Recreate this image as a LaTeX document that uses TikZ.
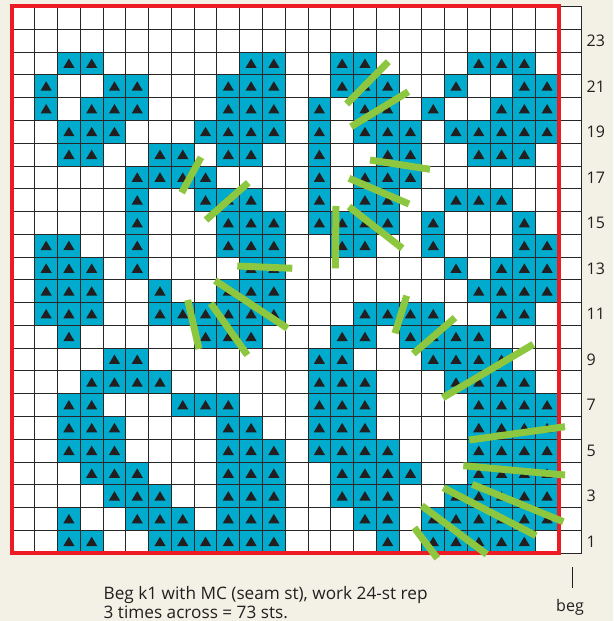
\documentclass[tikz,border=0pt]{standalone}
\usepackage{fontspec}
\setmainfont{Open Sans}
\definecolor{bg}{HTML}{F3F1E6}
\definecolor{chartblue}{HTML}{00ABCD}
\definecolor{bargreen}{HTML}{8DC63F}
\definecolor{borderred}{HTML}{ED1C24}
\definecolor{ink}{HTML}{231F20}
\begin{document}
\begin{tikzpicture}[x=1pt,y=-1pt,
  gridline/.style={draw=black!85,line width=0.9pt},
  cellfill/.style={fill=chartblue},
  trimark/.style={fill=ink},
  greenbar/.style={draw=bargreen,line width=7pt},
  redframe/.style={draw=borderred,line width=4pt},
  rowlabel/.style={anchor=west,inner sep=0pt,font=\fontsize{16}{18}\selectfont,text=ink},
  notetext/.style={anchor=base west,inner sep=0pt,font=\fontsize{17.2}{19}\selectfont,text=ink}]
\useasboundingbox (0,0) rectangle (613,621);
\fill[bg] (0,0) rectangle (613,621);
\fill[white] (12,6.6) rectangle (581.8,553);
% filled cells
\foreach \r/\cl in {
3/{3,4,11,12,15,16,21,22,23},
4/{2,5,6,10,11,12,15,16,17,20,23,24},
5/{2,4,5,6,10,11,12,14,16,17,19,22,23,24},
6/{3,4,5,9,10,11,12,14,16,17,18,20,21,22,23,24},
7/{3,4,7,8,10,11,14,17,18,21,22,23},
8/{6,7,8,9,14,16,17,18},
9/{6,9,10,11,14,16,17,20,21,22},
10/{6,10,11,12,14,15,16,17,19,23},
11/{2,3,6,10,11,12,15,16,19,23,24},
12/{2,3,4,6,11,12,20,22,23,24},
13/{2,3,4,7,10,11,12,21,22,23,24},
14/{2,3,4,7,8,9,10,11,12,16,17,18,19,22,23},
15/{3,9,10,11,15,16,18,19,20,21},
16/{5,6,14,15,19,20,21,22},
17/{4,5,6,7,14,15,16,20,21,22,23},
18/{3,4,8,9,10,14,15,16,21,22,23,24},
19/{3,4,5,10,11,14,15,16,21,22,23,24},
20/{3,4,5,10,11,12,14,15,16,17,21,22,23,24},
21/{4,5,6,10,11,12,15,16,17,18,21,22,23,24},
22/{5,6,7,10,11,12,15,16,17,20,21,22,23,24},
23/{3,6,7,8,10,11,12,16,17,19,20,21,22,23,24},
24/{3,4,7,8,9,10,11,12,17,19,20,21,22,23}}{
  \foreach \c in \cl {
    \fill[cellfill] ({12+(\c-1)*22.77},{6.6+(\r-1)*22.77}) rectangle ++(22.77,22.77);
    \fill[trimark] ({12+(\c-0.5)*22.77},{6.6+(\r-0.5)*22.77}) ++(-5.6,4.4) -- ++(11.2,0) -- ++(-5.6,-9.4) -- cycle;
  }
}
% grid lines
\foreach \k in {0,...,24}{
  \draw[gridline] ({12+\k*22.77},6.6) -- ({12+\k*22.77},553);
  \draw[gridline] (12,{6.6+\k*22.77}) -- (581.8,{6.6+\k*22.77});
}
\draw[gridline] (581.8,6.6) -- (581.8,553);
% red frame
\draw[redframe] (12,6.4) rectangle (558.8,553);
% green bars
\foreach \ax/\ay/\bx/\by in {
181.7/192.7/201/157.3,
206/220/248.3/182.7,
237.3/266/292.3/268.3,
215/280.5/287.5/328.3,
346.7/104/388.3/61.7,
351/126.7/408.3/91.7,
370/160/430/169.3,
349/178.3/409/204,
336/206/335.3/268.3,
349/206.7/402.3/248.3,
187.7/300/199/349,
210.7/303.3/247.3/355,
406.7/295.7/395/333.3,
455/317.7/413.3/353.7,
533.3/344.3/442.7/397.7,
469.3/440/565/426.7,
463.3/465.7/565/475,
472.3/484.3/563.3/521.7,
443.3/487.7/536/535.7,
421.7/505.7/486.7/554.3,
414.3/527.7/437.3/558.3}{
  \draw[greenbar] (\ax,\ay) -- (\bx,\by);
}
% row labels
\foreach \k in {1,3,...,23}{
  \node[rowlabel] (row\k) at (586.5,{553-(\k-0.5)*22.77}) {\k};
}
% beg marker
\coordinate (tickTop) at (572.7,567);
\coordinate (tickBot) at (572.7,588);
\draw[ink,line width=0.9pt] (tickTop) -- (tickBot);
\node[anchor=base,inner sep=0pt,font=\fontsize{16}{18}\selectfont,text=ink] (begLabel) at (570,611) {beg};
% note
\node[notetext] (noteA) at (103.5,599) {Beg k1 with MC (seam st), work 24-st rep};
\node[notetext] (noteB) at (103.5,618) {3 times across = 73 sts.};
\end{tikzpicture}
\end{document}
